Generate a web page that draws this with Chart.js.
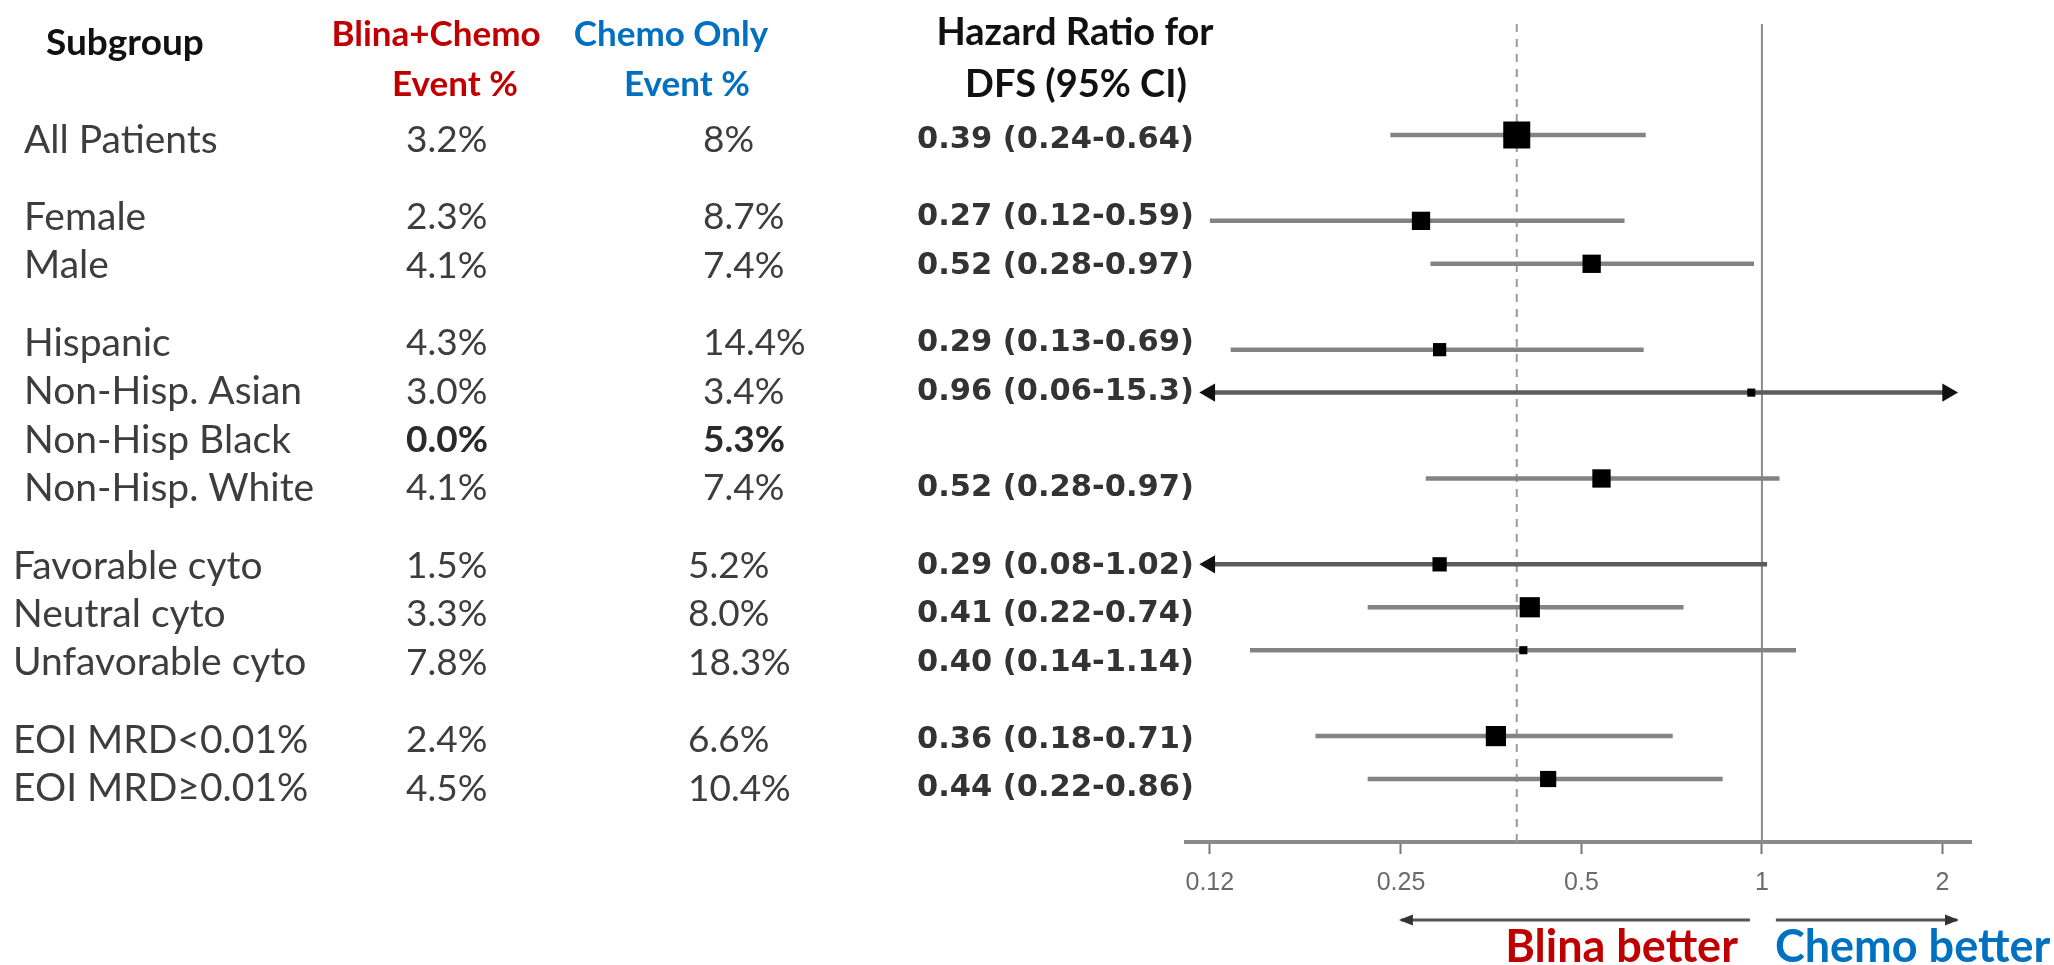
<!DOCTYPE html>
<html><head><meta charset="utf-8">
<script src="https://cdn.jsdelivr.net/npm/chart.js@4.4.1/dist/chart.umd.min.js"></script>
<style>html,body{margin:0;padding:0;background:#fff;overflow:hidden}canvas{display:block}</style>
</head><body>
<canvas id="c" width="2054" height="965"></canvas>
<script>
// ---------------- data ----------------
const subgroups = ['All Patients', '', 'Female', 'Male', '', 'Hispanic', 'Non-Hisp. Asian', 'Non-Hisp Black', 'Non-Hisp. White', '', 'Favorable cyto', 'Neutral cyto', 'Unfavorable cyto', '', 'EOI MRD<0.01%', 'EOI MRD\u22650.01%'];
const blinaPct = ['3.2%', null, '2.3%', '4.1%', null, '4.3%', '3.0%', '0.0%', '4.1%', null, '1.5%', '3.3%', '7.8%', null, '2.4%', '4.5%'];
const chemoPct = ['8%', null, '8.7%', '7.4%', null, '14.4%', '3.4%', '5.3%', '7.4%', null, '5.2%', '8.0%', '18.3%', null, '6.6%', '10.4%'];
const hrLabel = ['0.39 (0.24-0.64)', null, '0.27 (0.12-0.59)', '0.52 (0.28-0.97)', null, '0.29 (0.13-0.69)', '0.96 (0.06-15.3)', null, '0.52 (0.28-0.97)', null, '0.29 (0.08-1.02)', '0.41 (0.22-0.74)', '0.40 (0.14-1.14)', null, '0.36 (0.18-0.71)', '0.44 (0.22-0.86)'];
// plotted estimates and CI ends, as drawn in the forest graphic
const hr = [0.39, null, 0.27, 0.52, null, 0.29, 0.96, null, 0.54, null, 0.29, 0.41, 0.40, null, 0.36, 0.44];
const lo = [0.24, null, 0.12, 0.28, null, 0.13, 0.06, null, 0.275, null, 0.08, 0.22, 0.14, null, 0.18, 0.22];
const hi = [0.64, null, 0.59, 0.97, null, 0.635, 15.3, null, 1.07, null, 1.02, 0.74, 1.14, null, 0.71, 0.86];
// relative box weight (box area relative to the overall box)
const boxWeight = [1.0, null, 0.46, 0.46, null, 0.24, 0.09, null, 0.46, null, 0.28, 0.56, 0.09, null, 0.56, 0.36];
const boldPctRows = ['Non-Hisp Black'];
const tickVals = [0.12, 0.25, 0.5, 1, 2];
const tickLabels = ['0.12', '0.25', '0.5', '1', '2'];
const headers = [['Subgroup'], ['Blina+Chemo', 'Event %'], ['Chemo Only', 'Event %'], ['Hazard Ratio for', 'DFS (95% CI)']];
const directionLabels = ['Blina better', 'Chemo better'];

// ---------------- layout / style constants ----------------
const W = 2054, H = 965;
const AXIS_Y = 842;
const X_MIN = 0.1095, X_MAX = 2.232;
const ARROW_LO = 0.12, ARROW_HI = 2.04;
const Y_MIN = -2.585, Y_MAX = 16.467;      // forest rows (index in subgroups)
const GAP = 0.6;                           // text table: blank row weight
const YT_MIN = -2.397, YT_MAX = 14.504;
const SANS = "Lato, 'Open Sans', 'Liberation Sans', sans-serif";
const HRFONT = "'DejaVu Sans', Verdana, sans-serif";
const RED = '#c00000', BLUE = '#0070c0';
const BOX = 27;

// text positions derived from row structure
const groupOf = [];
const textPos = [];
{
  let nb = 0, blanks = 0, g = 0;
  subgroups.forEach((s) => {
    if (s === '') { blanks++; g++; groupOf.push(g); textPos.push(null); return; }
    groupOf.push(g);
    textPos.push(nb + GAP * blanks);
    nb++;
  });
}

// ---------------- datasets ----------------
const rows = subgroups.map((s, i) => i).filter(i => hr[i] != null);
const squares = {
  label: 'HR', data: rows.map(i => ({ x: hr[i], y: i })),
  pointStyle: 'rect', backgroundColor: '#000', borderWidth: 0,
  pointRadius: rows.map(i => BOX * Math.sqrt(boxWeight[i]) / Math.SQRT2),
  clip: false
};
const arrowPts = [], arrowRot = [];
rows.forEach(i => {
  if (lo[i] < ARROW_LO) { arrowPts.push({ x: ARROW_LO, y: i }); arrowRot.push(-90); }
  if (hi[i] > ARROW_HI) { arrowPts.push({ x: ARROW_HI, y: i }); arrowRot.push(90); }
});
const arrows = {
  label: 'arrows', data: arrowPts, pointStyle: 'triangle', rotation: arrowRot,
  pointRadius: 10.5, backgroundColor: '#111', borderColor: '#111', borderWidth: 0, clip: false
};
const ciLines = rows.map(i => {
  const clipped = lo[i] < ARROW_LO || hi[i] > ARROW_HI;
  return {
    label: 'ci' + i, showLine: true, pointRadius: 0,
    data: [{ x: Math.max(lo[i], ARROW_LO), y: i }, { x: Math.min(hi[i], ARROW_HI), y: i }],
    borderColor: clipped ? '#5c5c5c' : '#838383', borderWidth: 4.5, clip: false
  };
});
const refOne = {
  label: 'null', showLine: true, pointRadius: 0, clip: false,
  data: [{ x: 1, y: Y_MIN }, { x: 1, y: Y_MAX }], borderColor: '#8c8c8c', borderWidth: 2
};
const refOverall = {
  label: 'overall', showLine: true, pointRadius: 0, clip: false,
  data: [{ x: hr[0], y: Y_MIN }, { x: hr[0], y: Y_MAX }], borderColor: '#9a9a9a', borderWidth: 2,
  borderDash: [8, 7]
};

// ---------------- text plugin ----------------
function txt(c, s, x, y, font, color, align) {
  c.font = font; c.fillStyle = color; c.textAlign = align || 'left'; c.fillText(s, x, y);
}
const tablePlugin = {
  id: 'table',
  afterDraw(chart) {
    const c = chart.ctx, yt = chart.scales.yt, xs = chart.scales.x;
    c.save();
    c.textBaseline = 'middle';
    const hb = `bold 35px ${SANS}`, hb2 = `bold 38px ${SANS}`;
    txt(c, headers[0][0], 46, 43, `bold 37px ${SANS}`, '#111', 'left');
    txt(c, headers[1][0], 436, 35, hb, RED, 'center');
    txt(c, headers[1][1], 455, 85, hb, RED, 'center');
    txt(c, headers[2][0], 671, 35, hb, BLUE, 'center');
    txt(c, headers[2][1], 687, 85, hb, BLUE, 'center');
    txt(c, headers[3][0], 1075, 33, hb2, '#111', 'center');
    txt(c, headers[3][1], 1076, 85, hb2, '#111', 'center');

    subgroups.forEach((s, i) => {
      if (!s) return;
      const y = yt.getPixelForValue(textPos[i]);
      const g = groupOf[i];
      const reg = `37px ${SANS}`, bold = `bold 37px ${SANS}`;
      const isBold = boldPctRows.includes(s);
      txt(c, s, g < 3 ? 24 : 13, y, `39px ${SANS}`, '#3d3d3d');
      if (blinaPct[i]) txt(c, blinaPct[i], 406, y, isBold ? bold : reg, isBold ? '#2a2a2a' : '#3d3d3d');
      if (chemoPct[i]) txt(c, chemoPct[i], g < 3 ? 703 : 688, y, isBold ? bold : reg, isBold ? '#2a2a2a' : '#3d3d3d');
      if (hrLabel[i]) txt(c, hrLabel[i], 917, y, `bold 30.5px ${HRFONT}`, '#333');
    });

    // direction arrows and labels under the axis
    const ay = 920;
    const seg = (x1, x2, headLeft) => {
      c.strokeStyle = '#555'; c.lineWidth = 3;
      c.beginPath(); c.moveTo(x1, ay); c.lineTo(x2, ay); c.stroke();
      c.fillStyle = '#333'; c.beginPath();
      if (headLeft) { c.moveTo(x1 - 2, ay); c.lineTo(x1 + 12, ay - 5.5); c.lineTo(x1 + 12, ay + 5.5); }
      else { c.moveTo(x2 + 2, ay); c.lineTo(x2 - 12, ay - 5.5); c.lineTo(x2 - 12, ay + 5.5); }
      c.closePath(); c.fill();
    };
    seg(xs.getPixelForValue(0.25), xs.getPixelForValue(0.955), true);
    seg(xs.getPixelForValue(1.055), xs.getPixelForValue(2.115), false);
    const one = xs.getPixelForValue(1);
    c.textBaseline = 'alphabetic';
    txt(c, directionLabels[0], one - 24, 962, `bold 45px ${SANS}`, RED, 'right');
    txt(c, directionLabels[1], one + 13, 962, `bold 45px ${SANS}`, BLUE, 'left');
    c.restore();
  }
};

new Chart(document.getElementById('c'), {
  type: 'scatter',
  data: { datasets: [squares, arrows, ...ciLines, refOne, refOverall] },
  options: {
    responsive: false, animation: false, devicePixelRatio: 1,
    layout: { padding: { left: 1186, right: W - 1971, top: 24, bottom: 0 } },
    plugins: { legend: { display: false }, tooltip: { enabled: false } },
    scales: {
      x: {
        type: 'logarithmic', min: X_MIN, max: X_MAX,
        afterBuildTicks: s => { s.ticks = tickVals.map(v => ({ value: v })); },
        afterFit: s => { s.height = H - AXIS_Y; },
        ticks: {
          callback: (v, i) => tickLabels[i], autoSkip: false, maxRotation: 0, minRotation: 0,
          color: '#6b6b6b', font: { family: "'Liberation Sans', Arial, sans-serif", size: 25 }, padding: 14
        },
        grid: { display: true, drawOnChartArea: false, drawTicks: true, tickLength: 12, tickColor: '#777', tickWidth: 2 },
        border: { display: true, color: '#8a8a8a', width: 4 }
      },
      y: { type: 'linear', reverse: true, min: Y_MIN, max: Y_MAX, display: false },
      yt: { type: 'linear', reverse: true, min: YT_MIN, max: YT_MAX, display: false }
    }
  },
  plugins: [tablePlugin]
});
</script>
</body></html>
